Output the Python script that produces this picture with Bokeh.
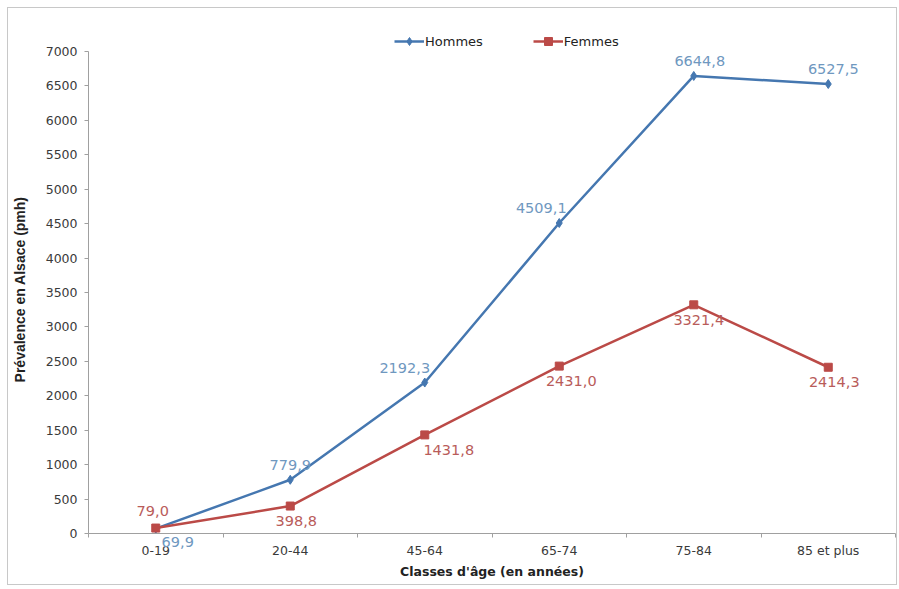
import math
from bokeh.plotting import figure
from bokeh.models import (ColumnDataSource, Range1d, FixedTicker, LabelSet, Label, Legend, LegendItem)
from bokeh.core.properties import value
from bokeh.embed import file_html
from bokeh.resources import INLINE

categories = ["0-19", "20-44", "45-64", "65-74", "75-84", "85 et plus"]
hommes = [69.9, 779.9, 2192.3, 4509.1, 6644.8, 6527.5]
femmes = [79.0, 398.8, 1431.8, 2431.0, 3321.4, 2414.3]
y_ticks = list(range(0, 7001, 500))
y_max = 7000

def fmt(v):
    return f"{v:.1f}".replace(".", ",")

xs = [i + 0.5 for i in range(len(categories))]
n = len(categories)

# label offsets in px (style only)
h_dx = [22, 0, -20, -18, 6, 5]
h_dy = [-13, 15, 15, 15, 15, 15]
f_dx = [-3, 6, 24, 12, 5, 6]
f_dy = [17, -15, -15, -15, -15, -15]

src_h = ColumnDataSource(dict(x=xs, y=hommes, lab=[fmt(v) for v in hommes], dx=h_dx, dy=h_dy))
src_f = ColumnDataSource(dict(x=xs, y=femmes, lab=[fmt(v) for v in femmes], dx=f_dx, dy=f_dy))

BLUE = "#4577b0"
RED = "#bb4a47"
BLUE_T = "#6f98bf"
RED_T = "#b95c5a"
FONT = "DejaVu Sans"
TFONT = "Liberation Sans"

# layout (page pixels): plot area edges, canvas frame edges
AX_L, AX_R, AX_T, AX_B = 87, 894, 50, 532
FR_L, FR_R, FR_T, FR_B = 8, 896, 8, 584
xu = n / (AX_R - AX_L)          # data units per px
yu = y_max / (AX_B - AX_T)
x_range = Range1d((FR_L - AX_L) * xu, n + (FR_R - AX_R) * xu)
y_range = Range1d(-(FR_B - AX_B) * yu, y_max + (AX_T - FR_T) * yu)

p = figure(width=890, height=578, output_backend="svg", toolbar_location=None,
           x_range=x_range, y_range=y_range,
           min_border_left=1, min_border_right=1, min_border_top=1, min_border_bottom=1,
           margin=(7, 0, 0, 7), styles={"border": "1px solid #c8c8c8"})
p.outline_line_color = None
p.xgrid.visible = False
p.ygrid.visible = False
p.background_fill_color = "white"
p.border_fill_color = "white"

p.xaxis.fixed_location = 0
p.yaxis.fixed_location = 0
p.xaxis.bounds = (0, n)
p.yaxis.bounds = (0, y_max)

p.xaxis.ticker = FixedTicker(ticks=xs, minor_ticks=list(range(0, n + 1)))
p.xaxis.major_label_overrides = {x: c for x, c in zip(xs, categories)}
p.xaxis.major_tick_line_color = None
p.xaxis.minor_tick_in = 0
p.xaxis.minor_tick_out = 4
p.xaxis.minor_tick_line_color = "#a0a0a0"
p.xaxis.axis_line_color = "#a0a0a0"
p.xaxis.axis_label = "Classes d'âge (en années)"

p.yaxis.ticker = FixedTicker(ticks=y_ticks)
p.yaxis.major_tick_in = 0
p.yaxis.major_tick_out = 4
p.yaxis.minor_tick_line_color = None
p.yaxis.major_tick_line_color = "#a0a0a0"
p.yaxis.axis_line_color = "#a0a0a0"

for ax in (p.xaxis, p.yaxis):
    ax.major_label_text_font = FONT
    ax.major_label_text_font_size = "12.5px"
    ax.major_label_text_color = "#3a3a3a"
    ax.axis_label_text_font = FONT
    ax.axis_label_text_font_size = "12.5px"
    ax.axis_label_text_font_style = "bold"
    ax.axis_label_text_color = "#222222"
p.xaxis.major_label_standoff = 3
p.xaxis.axis_label_standoff = 3
p.yaxis.major_label_standoff = 7

p.add_layout(Label(x=(18 - AX_L) * xu, y=(AX_B - 286) * yu, text="Prévalence en Alsace  (pmh)",
                   angle=math.pi / 2, text_align="center", text_baseline="middle",
                   text_font=TFONT, text_font_size="14px", text_font_style="bold",
                   text_color="#222222"))

lh = p.line("x", "y", source=src_h, line_color=BLUE, line_width=2.5)
mh = p.scatter("x", "y", source=src_h, marker="diamond", size=9, fill_color=BLUE, line_color=BLUE)
lf = p.line("x", "y", source=src_f, line_color=RED, line_width=2.5)
mf = p.scatter("x", "y", source=src_f, marker="square", size=8, fill_color=RED, line_color=RED)

p.add_layout(LabelSet(x="x", y="y", text="lab", source=src_h, x_offset="dx", y_offset="dy",
                      text_align="center", text_baseline="middle", text_font=value(FONT),
                      text_font_size="14.5px", text_color=BLUE_T))
p.add_layout(LabelSet(x="x", y="y", text="lab", source=src_f, x_offset="dx", y_offset="dy",
                      text_align="center", text_baseline="middle", text_font=value(FONT),
                      text_font_size="14.5px", text_color=RED_T))

legend = Legend(items=[LegendItem(label="Hommes", renderers=[lh, mh]),
                       LegendItem(label="Femmes", renderers=[lf, mf])],
                orientation="horizontal", location=(393 - FR_L, FR_B - 50),
                border_line_color=None, background_fill_alpha=0,
                label_text_font=FONT, label_text_font_size="13px", label_text_color="#222222",
                glyph_width=30, glyph_height=20, label_standoff=1, spacing=50,
                padding=0, margin=0)
p.add_layout(legend, "center")

open("out.html", "w").write(file_html(p, INLINE))
